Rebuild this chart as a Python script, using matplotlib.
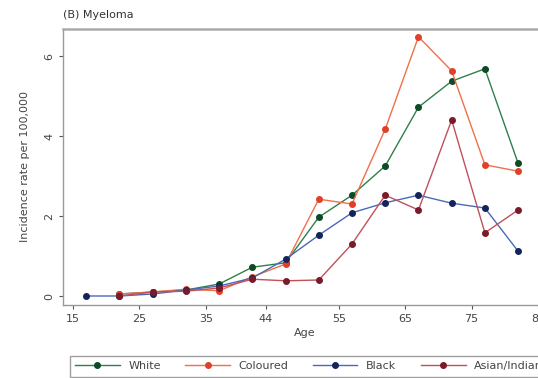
import matplotlib
matplotlib.use("Agg")
import matplotlib.pyplot as plt

ages = [17, 22, 27, 32, 37, 42, 47, 52, 57, 62, 67, 72, 77, 82]
white = [None, 0.05, 0.10, 0.15, 0.30, 0.72, 0.83, 1.97, 2.52, 3.25, 4.72, 5.37, 5.68, 3.32]
coloured = [None, 0.05, 0.10, 0.17, 0.13, 0.48, 0.80, 2.42, 2.30, 4.17, 6.48, 5.63, 3.28, 3.12]
black = [0.0, 0.0, 0.05, 0.15, 0.25, 0.45, 0.92, 1.52, 2.08, 2.33, 2.52, 2.32, 2.20, 1.12]
asian = [None, 0.0, 0.10, 0.12, 0.20, 0.42, 0.38, 0.40, 1.30, 2.52, 2.15, 4.40, 1.58, 2.15]
xticks = [15, 25, 35, 44, 55, 65, 75, 85]
yticks = [0, 2, 4, 6]

series = [
    ("White", white, "#2f7f4a", "#0d4a26"),
    ("Coloured", coloured, "#f0704a", "#e0402a"),
    ("Black", black, "#4a6ab8", "#14245a"),
    ("Asian/Indian", asian, "#c0505a", "#7a1a2a"),
]

fig = plt.figure(figsize=(5.38, 3.78), dpi=100)
ax = fig.add_axes([63/538, 1-305/378, (546-63)/538, (305-29)/378])

handles = []
for name, vals, lc, mc in series:
    xs = [a for a, v in zip(ages, vals) if v is not None]
    ys = [v for v in vals if v is not None]
    h, = ax.plot(xs, ys, color=lc, lw=1.0, marker='o', ms=4.0,
                 markerfacecolor=mc, markeredgecolor=mc, label=name)
    handles.append(h)

ax.set_xlim(13.5, 86.2)
ax.set_ylim(-0.225, 6.675)
ax.set_xticks(xticks)
ax.set_yticks(yticks)
ax.tick_params(axis='both', labelsize=8, length=3, color='#555555', labelcolor='#444444')
for lab in ax.get_yticklabels():
    lab.set_rotation(90)
    lab.set_va('center')
for s in ['left', 'bottom', 'top', 'right']:
    ax.spines[s].set_color('#999999')
    ax.spines[s].set_linewidth(1.0)
ax.spines['top'].set_linewidth(1.8)
ax.spines['top'].set_color('#aaaaaa')

ax.set_xlabel("Age", fontsize=8, color='#444444', labelpad=3)
ax.set_ylabel("Incidence rate per 100,000", fontsize=8, color='#444444', labelpad=10)
fig.text(63/538, 1-15/378, "(B) Myeloma", fontsize=8, color='#333333', va='center', ha='left')

leg = fig.legend(handles=handles, loc='upper left', bbox_to_anchor=(64/538, 1-350/378),
                 ncol=4, fontsize=8, frameon=True, fancybox=False, handlelength=4,
                 columnspacing=2.2, borderpad=0.5, handletextpad=0.8)
leg.get_frame().set_edgecolor('#888888')
leg.get_frame().set_linewidth(1.0)
for t in leg.get_texts():
    t.set_color('#444444')

fig.savefig("out.png", dpi=100)
